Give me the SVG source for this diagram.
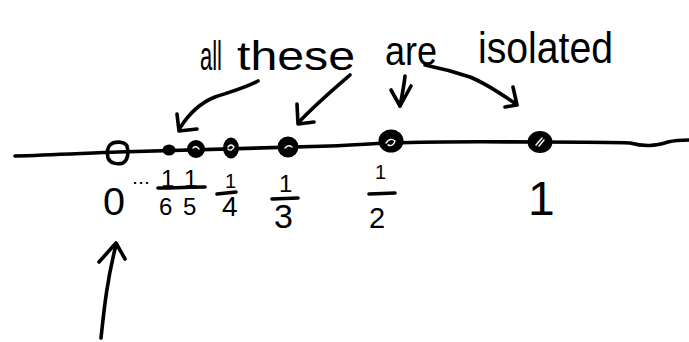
<svg xmlns="http://www.w3.org/2000/svg" width="689" height="342" viewBox="0 0 689 342">
<style>
.ink{fill:none;stroke:#000;stroke-width:3.6;stroke-linecap:round;stroke-linejoin:round}
.dot{fill:#000;stroke:#000;stroke-width:2}
.hl{fill:none;stroke:#fff;stroke-width:1.4;stroke-linecap:round}
.t{font-family:"Liberation Sans","DejaVu Sans",sans-serif;fill:#000}
</style>
<rect width="689" height="342" fill="#fff"/>
<g id="axis">
<path class="ink" d="M15,156 C50,155 90,153 118,152 C180,150 250,148 330,146 C360,145 375,143 392,143 C450,141 500,142 540,142 C580,142 610,142 630,143 C645,147 655,146 668,142 C676,140 684,140 689,140"/>
</g>
<g id="node-0">
<path class="ink" d="M110,145 C114,141 124,141 127,146 C129,152 128,160 123,163 C117,165 110,163 108,158 C107,153 107,148 110,145 Z"/>
<text class="t" x="103" y="215" font-size="38" textLength="22" lengthAdjust="spacingAndGlyphs">0</text>
<text class="t" x="132" y="184" font-size="18" textLength="18" lengthAdjust="spacingAndGlyphs">...</text>
</g>
<g id="node-1-6">
<ellipse class="dot" cx="169" cy="150" rx="5.5" ry="4.5"/>
<text class="t" x="161" y="187" font-size="24">1</text>
<text class="t" x="159" y="215" font-size="24">6</text>
</g>
<g id="node-1-5">
<circle class="dot" cx="196" cy="149" r="8"/>
<path class="hl" d="M193,148 Q196,145 199,149"/>
<text class="t" x="184" y="187" font-size="24">1</text>
<text class="t" x="183" y="215" font-size="24">5</text>
<path class="ink" d="M158,188 C175,188 190,187 205,187"/>
</g>
<g id="node-1-4">
<ellipse class="dot" cx="231" cy="148" rx="7" ry="9.5"/>
<path class="hl" d="M228,147 Q231,143 234,147 Q231,152 228,149"/>
<text class="t" x="225" y="188" font-size="20">1</text>
<text class="t" x="222" y="216" font-size="28">4</text>
<path class="ink" d="M217,194 L236,192"/>
</g>
<g id="node-1-3">
<circle class="dot" cx="288" cy="147" r="9.5"/>
<path class="hl" d="M285,148 Q288,144 292,147"/>
<text class="t" x="279" y="192" font-size="24">1</text>
<text class="t" x="274" y="228" font-size="34">3</text>
<path class="ink" d="M272,199 L298,198"/>
</g>
<g id="node-1-2">
<ellipse class="dot" cx="391" cy="141" rx="11.5" ry="10.5"/>
<path class="hl" d="M386,143 Q390,137 395,141 Q393,147 388,145"/>
<text class="t" x="375" y="179" font-size="20">1</text>
<text class="t" x="369" y="228" font-size="29">2</text>
<path class="ink" d="M369,194 L395,193"/>
</g>
<g id="node-1">
<ellipse class="dot" cx="540" cy="142" rx="11.5" ry="10"/>
<path class="hl" d="M536,145 L542,138 M539,146 L544,140"/>
<text class="t" x="528" y="215" font-size="48">1</text>
</g>
<g id="label">
<text class="t" x="200" y="70" font-size="40" textLength="22" lengthAdjust="spacingAndGlyphs">all</text>
<text class="t" x="237" y="70" font-size="40" textLength="118" lengthAdjust="spacingAndGlyphs">these</text>
<text class="t" x="385" y="65" font-size="40" textLength="52" lengthAdjust="spacingAndGlyphs">are</text>
<text class="t" x="478" y="63" font-size="44" textLength="135" lengthAdjust="spacingAndGlyphs">isolated</text>
</g>
<g id="connectors">
<path class="ink" d="M258,81 C245,88 230,92 215,97 C200,103 188,115 180,128"/>
<path class="ink" d="M177,114 L179,131 L197,129"/>
<path class="ink" d="M350,75 C335,88 315,105 299,122"/>
<path class="ink" d="M297,104 L298,124 L314,122"/>
<path class="ink" d="M405,76 C404,86 402,96 400,106"/>
<path class="ink" d="M391,90 L400,106 L411,86"/>
<path class="ink" d="M425,65 C440,68 455,72 470,77 C485,83 500,93 516,104"/>
<path class="ink" d="M513,87 L517,105 L505,107"/>
<path class="ink" d="M101,338 C104,310 107,280 116,245"/>
<path class="ink" d="M99,262 L116,243 L125,259"/>
</g>
</svg>
